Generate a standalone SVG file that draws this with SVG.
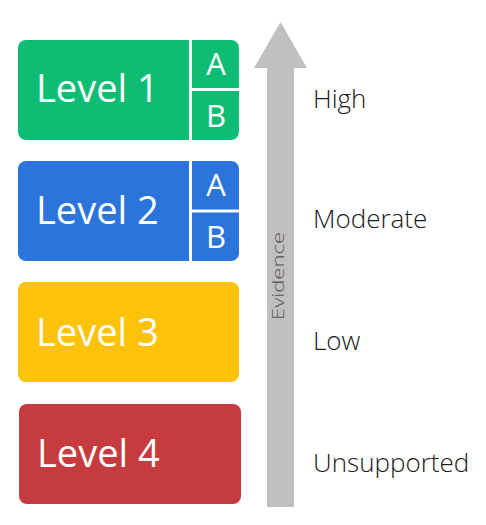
<svg xmlns="http://www.w3.org/2000/svg" width="486" height="525" viewBox="0 0 486 525">
<style>
.lvl{font-family:"Open Sans","Noto Sans",sans-serif;font-size:38px;fill:#fff;}
.ab{font-family:"Open Sans","Noto Sans",sans-serif;font-size:31px;fill:#fff;text-anchor:middle;}
.lab{font-family:"Open Sans","Noto Sans",sans-serif;font-size:26px;font-weight:300;fill:#1a1a1a;}
.div{stroke:#fff;stroke-width:3;}
</style>
<rect width="486" height="525" fill="#fff"/>
<g id="connectors">
<path d="M267 507 V68 H254 L280.5 22 L307 68 H294 V507 Z" fill="#c0c0c0"/>
<text transform="translate(284,276) rotate(-90)" x="-44" y="0" textLength="88" lengthAdjust="spacingAndGlyphs" font-family="'Open Sans','Noto Sans',sans-serif" font-size="17" font-weight="300" fill="#555">Evidence</text>
</g>
<g id="level1">
<rect x="18" y="40" width="221" height="100" rx="8" fill="#0dbd73"/>
<line class="div" x1="190.5" y1="40" x2="190.5" y2="140"/>
<line class="div" x1="190" y1="89.5" x2="239" y2="89.5"/>
<text class="lvl" x="36" y="102">Level 1</text>
<text class="ab" x="216" y="75">A</text>
<text class="ab" x="216" y="127">B</text>
</g>
<g id="level2">
<rect x="18" y="161" width="221" height="100" rx="8" fill="#2b74dc"/>
<line class="div" x1="190.5" y1="161" x2="190.5" y2="261"/>
<line class="div" x1="190" y1="211" x2="239" y2="211"/>
<text class="lvl" x="36" y="224">Level 2</text>
<text class="ab" x="216" y="196">A</text>
<text class="ab" x="216" y="248">B</text>
</g>
<g id="level3">
<rect x="18" y="282" width="221" height="100" rx="8" fill="#fdc20a"/>
<text class="lvl" x="36" y="346">Level 3</text>
</g>
<g id="level4">
<rect x="19" y="404" width="222" height="100" rx="8" fill="#c53b3e"/>
<text class="lvl" x="37" y="467">Level 4</text>
</g>
<g id="labels">
<text class="lab" x="313" y="108">High</text>
<text class="lab" x="313" y="228">Moderate</text>
<text class="lab" x="313" y="350">Low</text>
<text class="lab" x="313" y="472">Unsupported</text>
</g>
</svg>
